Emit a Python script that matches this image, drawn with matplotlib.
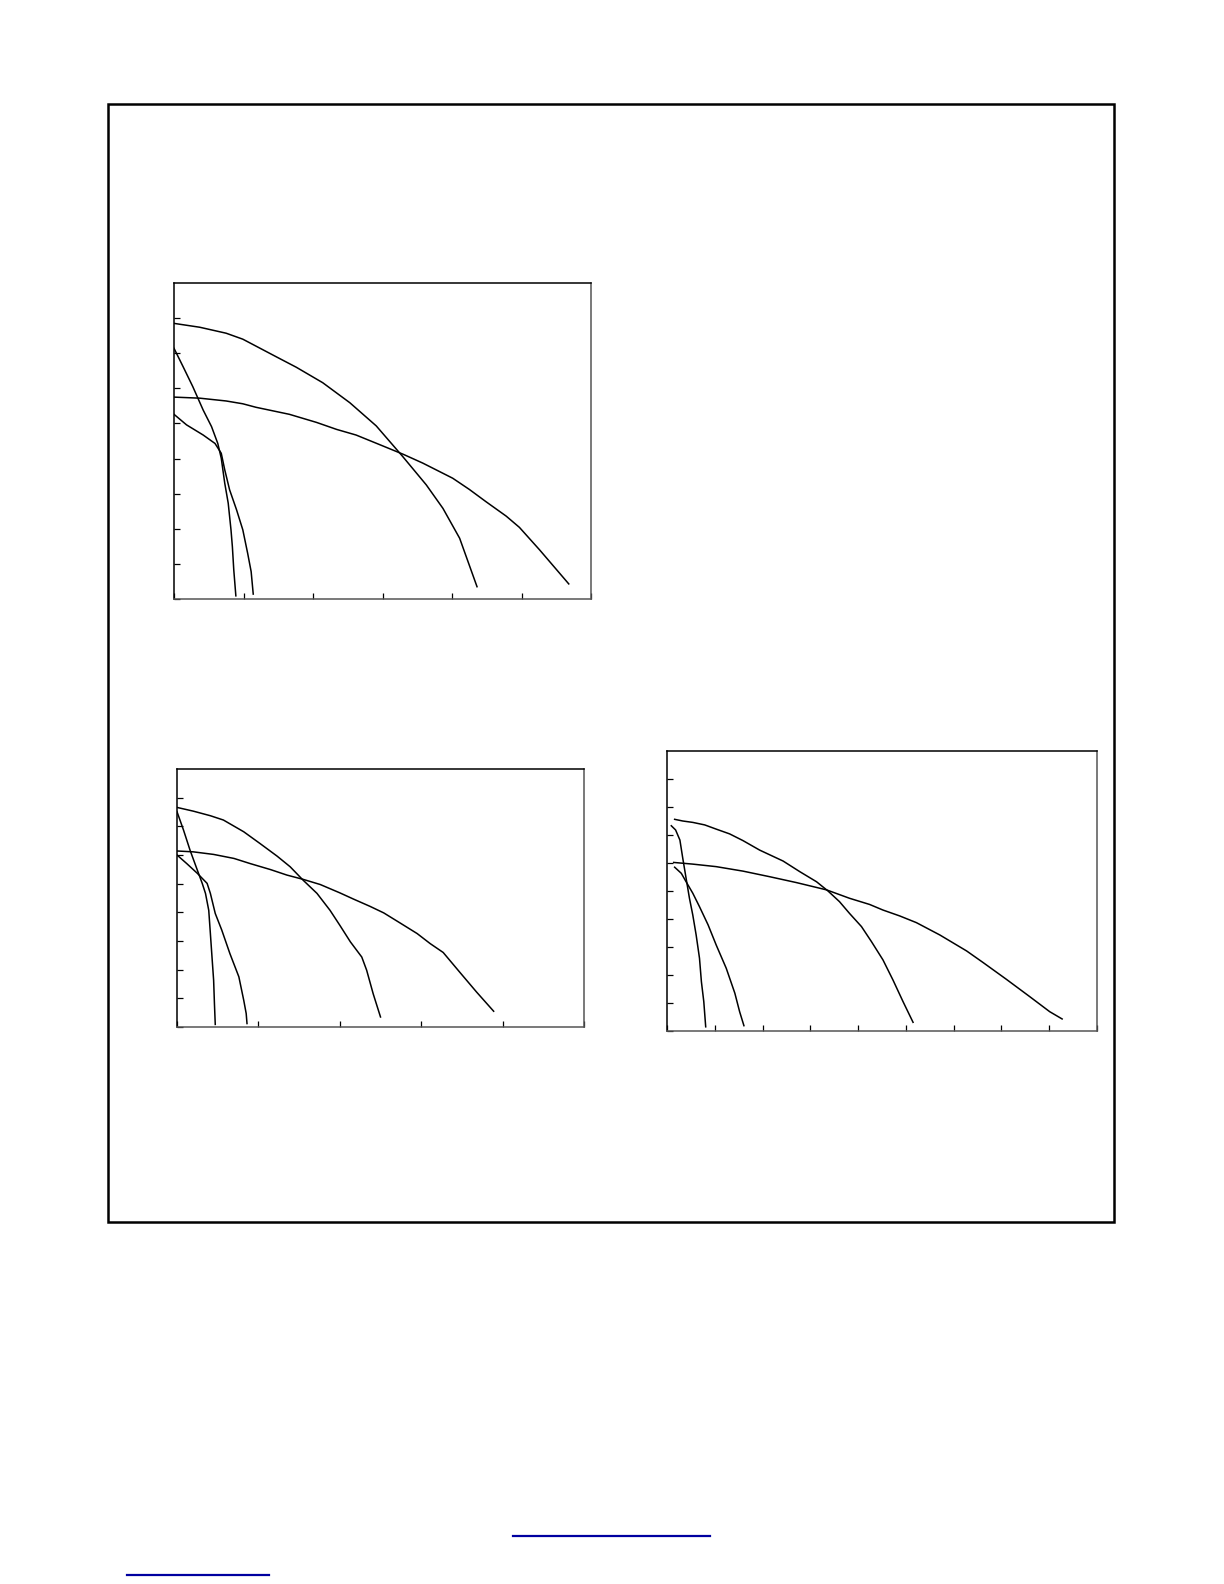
import numpy as np
import matplotlib.pyplot as plt
from matplotlib.patches import Rectangle
from matplotlib.lines import Line2D

# chart 1 (top left)
c1_a_x = [0, 0.37, 0.75, 0.99, 1.47, 1.76, 2.14, 2.53, 2.91, 3.29, 3.63, 3.87, 4.11, 4.36]
c1_a_y = [7.85, 7.74, 7.57, 7.40, 6.90, 6.60, 6.16, 5.59, 4.93, 4.06, 3.25, 2.58, 1.73, 0.35]
c1_b_x = [0, 0.37, 0.75, 0.99, 1.18, 1.66, 2.05, 2.34, 2.62, 2.93, 3.30, 3.58, 3.82, 4.01,
          4.25, 4.49, 4.78, 4.97, 5.26, 5.68]
c1_b_y = [5.75, 5.72, 5.64, 5.56, 5.46, 5.26, 5.03, 4.83, 4.67, 4.42, 4.12, 3.87, 3.63, 3.44,
          3.12, 2.77, 2.36, 2.04, 1.40, 0.43]
c1_c_x = [0, 0.13, 0.27, 0.42, 0.54, 0.63, 0.68, 0.73, 0.78, 0.82, 0.84, 0.86, 0.89]
c1_c_y = [7.14, 6.62, 6.05, 5.38, 4.91, 4.43, 4.01, 3.30, 2.73, 1.97, 1.49, 0.83, 0.09]
c1_d_x = [0, 0.18, 0.42, 0.59, 0.68, 0.73, 0.80, 0.90, 0.99, 1.06, 1.11, 1.14]
c1_d_y = [5.26, 4.96, 4.67, 4.43, 4.15, 3.68, 3.11, 2.54, 1.97, 1.30, 0.78, 0.14]

# chart 2 (bottom left)
c2_a_x = [0, 0.20, 0.41, 0.57, 0.82, 1.02, 1.23, 1.39, 1.55, 1.72, 1.88, 2.00, 2.13, 2.27,
          2.33, 2.41, 2.50]
c2_a_y = [7.66, 7.53, 7.37, 7.22, 6.81, 6.40, 5.96, 5.59, 5.12, 4.66, 4.07, 3.55, 2.97, 2.44,
          1.98, 1.16, 0.35]
c2_b_x = [0, 0.20, 0.45, 0.70, 0.90, 1.15, 1.35, 1.55, 1.76, 2.00, 2.17, 2.37, 2.54, 2.74,
          2.95, 3.11, 3.27, 3.48, 3.68, 3.89]
c2_b_y = [6.14, 6.11, 6.02, 5.88, 5.70, 5.49, 5.30, 5.15, 4.97, 4.68, 4.46, 4.21, 3.98, 3.63,
          3.26, 2.91, 2.60, 1.89, 1.22, 0.55]
c2_c_x = [0, 0.08, 0.16, 0.25, 0.31, 0.35, 0.39, 0.41, 0.43, 0.45, 0.46, 0.47]
c2_c_y = [7.51, 6.87, 6.17, 5.47, 5.01, 4.66, 4.07, 3.26, 2.44, 1.63, 0.81, 0.09]
c2_d_x = [0, 0.12, 0.25, 0.37, 0.41, 0.47, 0.55, 0.65, 0.76, 0.82, 0.85, 0.86]
c2_d_y = [6.00, 5.70, 5.36, 5.01, 4.66, 3.96, 3.38, 2.56, 1.75, 0.93, 0.47, 0.12]

# chart 3 (bottom right)
c3_a_x = [0.16, 0.33, 0.54, 0.79, 1.03, 1.31, 1.59, 1.94, 2.43, 2.78, 3.13, 3.37, 3.61, 3.82,
          4.07, 4.28, 4.52, 4.73, 4.94, 5.15]
c3_a_y = [7.56, 7.50, 7.45, 7.36, 7.21, 7.04, 6.80, 6.46, 6.07, 5.69, 5.33, 5.00, 4.62, 4.20,
          3.73, 3.19, 2.54, 1.82, 1.05, 0.31]
c3_b_x = [0.14, 0.54, 1.03, 1.59, 2.15, 2.71, 3.34, 3.82, 4.24, 4.52, 4.87, 5.22, 5.71, 6.27,
          6.62, 7.10, 7.59, 8.01, 8.27]
c3_b_y = [6.02, 5.96, 5.87, 5.71, 5.51, 5.30, 5.04, 4.74, 4.52, 4.32, 4.11, 3.87, 3.43, 2.86,
          2.44, 1.85, 1.23, 0.69, 0.43]
c3_c_x = [0.09, 0.18, 0.27, 0.33, 0.40, 0.47, 0.54, 0.61, 0.68, 0.72, 0.77, 0.81]
c3_c_y = [7.33, 7.18, 6.82, 6.17, 5.45, 4.74, 4.14, 3.43, 2.60, 1.76, 1.05, 0.15]
c3_d_x = [0.16, 0.30, 0.40, 0.54, 0.68, 0.86, 1.03, 1.24, 1.42, 1.52, 1.61]
c3_d_y = [5.85, 5.63, 5.33, 4.92, 4.44, 3.79, 3.07, 2.24, 1.35, 0.69, 0.19]

W, H = 1224, 1584


def px_axes(fig, x0, y0, x1, y1):
    # page pixel box -> figure fraction axes
    return fig.add_axes([x0 / W, 1 - y1 / H, (x1 - x0) / W, (y1 - y0) / H])


def draw_chart(ax, curves, xmax, ymax, xticks, yticks):
    for xs, ys in curves:
        ax.plot(xs, ys, color='black', linewidth=1.1)
    ax.set_xlim(0, xmax)
    ax.set_ylim(0, ymax)
    ax.set_xticks(xticks)
    ax.set_yticks(yticks)
    ax.tick_params(direction='in', length=4, width=0.9, colors='black',
                   labelbottom=False, labelleft=False, top=False, right=False)
    for side in ['top', 'left']:
        ax.spines[side].set_color('black')
    for side in ['bottom', 'right']:
        ax.spines[side].set_color('#555555')
    for s in ax.spines.values():
        s.set_linewidth(1.1)


def main():
    fig = plt.figure(figsize=(W / 100, H / 100), dpi=100)

    # outer frame
    fig.add_artist(Rectangle((108 / W, 1 - 1222 / H), 1006 / W, 1118 / H,
                             transform=fig.transFigure, fill=False,
                             edgecolor='black', linewidth=1.8))

    ax1 = px_axes(fig, 174, 283, 591, 599)
    draw_chart(ax1, [(c1_a_x, c1_a_y), (c1_b_x, c1_b_y), (c1_c_x, c1_c_y), (c1_d_x, c1_d_y)],
               6, 9, range(0, 7), range(0, 9))

    ax2 = px_axes(fig, 177, 769, 584, 1027)
    draw_chart(ax2, [(c2_a_x, c2_a_y), (c2_b_x, c2_b_y), (c2_c_x, c2_c_y), (c2_d_x, c2_d_y)],
               5, 9, range(0, 6), range(0, 9))

    ax3 = px_axes(fig, 667, 751, 1097, 1031)
    draw_chart(ax3, [(c3_a_x, c3_a_y), (c3_b_x, c3_b_y), (c3_c_x, c3_c_y), (c3_d_x, c3_d_y)],
               9, 10, range(0, 10), range(0, 10))

    # link underlines at the page foot
    for x0, x1, y in [(513, 710, 1536), (127, 269, 1575)]:
        fig.add_artist(Line2D([x0 / W, x1 / W], [1 - y / H, 1 - y / H],
                              transform=fig.transFigure, color='#0000a0', linewidth=1.6))

    fig.savefig('out.png', dpi=100)


if __name__ == '__main__':
    main()
